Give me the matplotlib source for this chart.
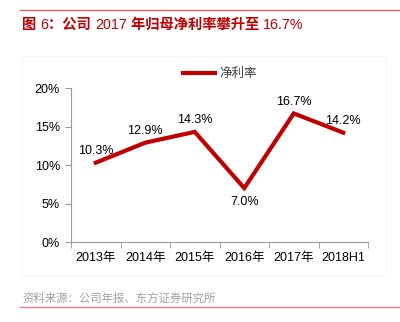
import matplotlib
matplotlib.use('Agg')
import matplotlib.pyplot as plt
from matplotlib.patches import Rectangle
from matplotlib.lines import Line2D

plt.rcParams['font.family'] = ['Liberation Sans', 'Noto Sans CJK SC', 'DejaVu Sans']

# 数据
years = ['2013年', '2014年', '2015年', '2016年', '2017年', '2018H1']
margin = [10.3, 12.9, 14.3, 7.0, 16.7, 14.2]
label_pos = ['above', 'above', 'above', 'below', 'above', 'above']
yticks = [0, 5, 10, 15, 20]

# 标题分段：中文加粗，数字常规
title_parts = [('图 ', 'bold'), ('6', 'normal'), ('：公司 ', 'bold'), ('2017', 'normal'),
               (' 年归母净利率攀升至 ', 'bold'), ('16.7%', 'normal')]

red = '#c00000'

fig = plt.figure(figsize=(4.0, 3.22), dpi=100)
fig.patch.set_facecolor('white')

# 外框线和淡灰色图框
fig.add_artist(Line2D([0.05, 1.0], [0.968, 0.968], color='#e06060', lw=1.0))
fig.add_artist(Line2D([0.05, 1.0], [0.047, 0.047], color='#e08080', lw=1.0))
fig.add_artist(Rectangle((0.055, 0.145), 0.91, 0.68, fill=False,
                         ec='#f6f6f6', lw=0.8))

renderer = fig.canvas.get_renderer()
xpos = 0.055
for txt, wt in title_parts:
    t = fig.text(xpos, 0.922, txt, color=red, fontsize=10.3, fontweight=wt,
                 va='center', ha='left')
    bb = t.get_window_extent(renderer=renderer)
    xpos += bb.width / fig.bbox.width

fig.text(0.055, 0.075, '资料来源：公司年报、东方证券研究所', color='#a0a0a0',
         fontsize=8.2, va='center', ha='left')

ax = fig.add_axes([0.1775, 0.2484, 0.7425, 0.4783])
x = list(range(len(years)))
ax.plot(x, margin, color=red, lw=3.0, solid_joinstyle='miter',
        label='净利率')

for xi, v, pos in zip(x, margin, label_pos):
    if pos == 'above':
        ax.annotate(f'{v:.1f}%', (xi, v), xytext=(0, 4), textcoords='offset points',
                    ha='center', va='bottom', fontsize=9)
    else:
        ax.annotate(f'{v:.1f}%', (xi, v), xytext=(0, -6), textcoords='offset points',
                    ha='center', va='top', fontsize=9)

ax.set_xlim(-0.5, len(years) - 0.5)
ax.set_ylim(0, 20)
ax.set_yticks(yticks)
ax.set_yticklabels([f'{t}%' for t in yticks], fontsize=9)
ax.set_xticks(x)
ax.set_xticklabels(years, fontsize=9)
ax.set_xticks([i - 0.5 for i in range(len(years) + 1)], minor=True)
ax.tick_params(axis='x', which='major', length=0, pad=7)
ax.tick_params(axis='x', which='minor', length=4, color='#999999', direction='out')
ax.tick_params(axis='y', length=4, color='#999999', direction='out', pad=4)

for s in ['top', 'right']:
    ax.spines[s].set_visible(False)
for s in ['left', 'bottom']:
    ax.spines[s].set_color('#999999')
    ax.spines[s].set_linewidth(0.8)

ax.legend(loc='center', bbox_to_anchor=(0.5, 1.09), frameon=False, fontsize=9,
          handlelength=2.6, handletextpad=0.3, labelcolor='#404040')

fig.savefig('out.png', dpi=100, facecolor='white')
